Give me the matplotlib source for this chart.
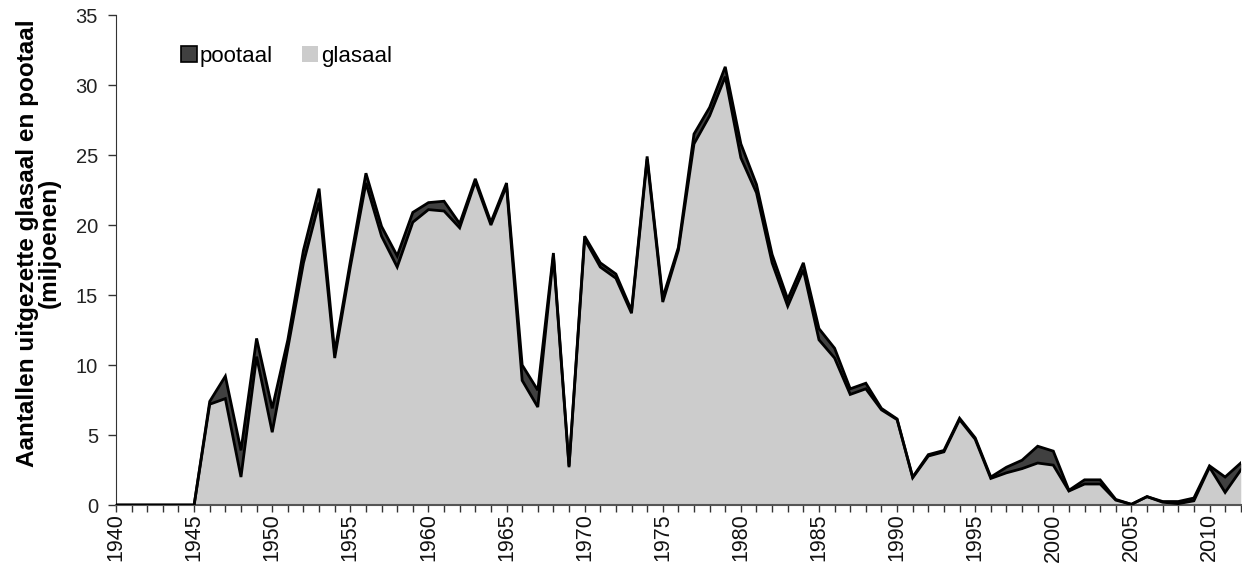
import matplotlib
matplotlib.use("Agg")
import matplotlib.pyplot as plt
from matplotlib.patches import Patch
import numpy as np

plt.rcParams['font.family'] = ['Liberation Sans', 'DejaVu Sans']

years = list(range(1940, 2013))
glasaal = [0, 0, 0, 0, 0, 0,
           7.2, 7.6, 2.0, 10.6, 5.2, 11.2, 17.3, 21.6, 10.5, 17.0,
           23.0, 19.2, 17.0, 20.2, 21.1, 21.0, 19.8, 23.1, 20.0, 22.8,
           8.9, 7.0, 17.8, 2.7, 19.0, 17.0, 16.2, 13.7, 24.7, 14.5,
           18.2, 25.8, 27.8, 30.6, 24.8, 22.3, 17.3, 14.2, 16.8, 11.8,
           10.5, 7.9, 8.3, 6.8, 6.1, 1.95, 3.5, 3.8, 6.1, 4.7,
           1.9, 2.3, 2.6, 3.0, 2.85, 1.0, 1.5, 1.5, 0.35, 0.05,
           0.6, 0.2, 0.1, 0.3, 2.7, 0.9, 2.5]
pootaal = [0, 0, 0, 0, 0, 0,
           0.2, 1.6, 1.9, 1.3, 1.7, 0.6, 0.9, 1.0, 0.4, 0.4,
           0.7, 0.7, 0.8, 0.7, 0.5, 0.7, 0.3, 0.2, 0.2, 0.2,
           1.1, 1.2, 0.2, 0.1, 0.2, 0.3, 0.3, 0.2, 0.2, 0.3,
           0.2, 0.7, 0.6, 0.7, 1.0, 0.6, 0.6, 0.5, 0.5, 0.8,
           0.7, 0.4, 0.4, 0.1, 0.05, 0.05, 0.1, 0.1, 0.1, 0.1,
           0.1, 0.4, 0.6, 1.2, 1.0, 0.05, 0.3, 0.3, 0.05, 0.0,
           0.0, 0.05, 0.15, 0.2, 0.1, 1.1, 0.5]
label_years = list(range(1940, 2011, 5))

x = np.array(years)
g = np.array(glasaal)
tot = g + np.array(pootaal)

fig = plt.figure(figsize=(12.42, 5.67), dpi=100)
ax = fig.add_axes([0.0934, 0.1093, 0.9056, 0.8642])

ax.fill_between(x, 0, g, color='#cccccc', lw=0, zorder=1)
ax.fill_between(x, g, tot, color='#404040', lw=0, zorder=2)
ax.plot(x, g, color='black', lw=2.0, zorder=3, solid_joinstyle='miter')
ax.plot(x, tot, color='black', lw=2.0, zorder=3, solid_joinstyle='miter')

ax.set_xlim(1940, 2012)
ax.set_ylim(0, 35)
ax.set_yticks(range(0, 36, 5))
ax.set_xticks(years, minor=True)
ax.set_xticks(label_years)
ax.set_xticklabels([str(y) for y in label_years], rotation=90, fontsize=15.5, color='#111111')
ax.tick_params(axis='x', which='both', direction='out', length=5, width=1, color='#333333', pad=1)
ax.tick_params(axis='y', direction='out', length=6, width=1, color='#333333', labelsize=14.5, labelcolor='#222222', pad=7)

for s in ['top', 'right']:
    ax.spines[s].set_visible(False)
ax.spines['left'].set_color('#333333')
ax.spines['bottom'].set_color('#555555')
ax.spines['bottom'].set_linewidth(1.5)

ax.set_ylabel('Aantallen uitgezette glasaal en pootaal\n(miljoenen)', fontsize=17.5,
              fontweight='bold', linespacing=0.95)
ax.yaxis.set_label_coords(-0.049, 0.535)

handles = [Patch(facecolor='#404040', edgecolor='black', lw=1.2, label='pootaal'),
           Patch(facecolor='#cccccc', edgecolor='#cccccc', lw=0, label='glasaal')]
ax.legend(handles=handles, loc='upper left', bbox_to_anchor=(0.05, 0.955), ncol=2,
          frameon=False, fontsize=16, handlelength=0.7, handleheight=0.7,
          handletextpad=0.15, columnspacing=1.3, borderaxespad=0)

fig.savefig('out.png', dpi=100)
